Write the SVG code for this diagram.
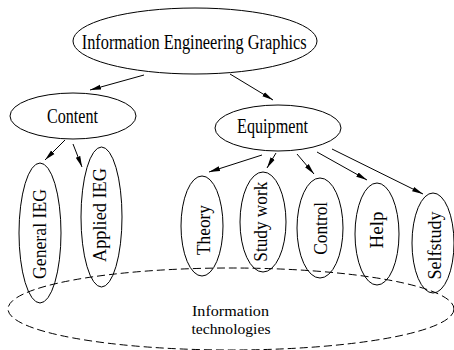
<svg xmlns="http://www.w3.org/2000/svg" width="454" height="350" viewBox="0 0 454 350">
<defs>
<marker id="ah" markerUnits="userSpaceOnUse" markerWidth="12" markerHeight="6" refX="11" refY="3" orient="auto">
<path d="M0,0.6 L11,3 L0,5.4 Z" fill="#000"/>
</marker>
<style>
.n{fill:none;stroke:#000;stroke-width:1}
.t{font-family:"Liberation Serif","Times New Roman",serif;font-size:20px;fill:#000;text-anchor:middle}
.b{font-family:"Liberation Serif","Times New Roman",serif;font-size:15px;fill:#000;text-anchor:middle}
.r{font-family:"Liberation Serif","Times New Roman",serif;font-size:18px;fill:#000;text-anchor:middle}
.e{stroke:#000;stroke-width:1;fill:none;marker-end:url(#ah)}
</style>
</defs>
<rect width="454" height="350" fill="#fff"/>
<g id="info-tech">
<ellipse class="n" cx="231" cy="309" rx="223" ry="41" stroke-dasharray="8,4"/>
<text class="b" x="230.5" y="316" textLength="77" lengthAdjust="spacingAndGlyphs">Information</text>
<text class="b" x="231" y="334" textLength="79" lengthAdjust="spacingAndGlyphs">technologies</text>
</g>
<g id="ieg">
<ellipse class="n" cx="195" cy="41" rx="122" ry="33"/>
<text class="t" x="194.2" y="49" textLength="225" lengthAdjust="spacingAndGlyphs">Information Engineering Graphics</text>
</g>
<g id="content">
<ellipse class="n" cx="73" cy="116" rx="63" ry="23"/>
<text class="t" x="72.5" y="123" textLength="51" lengthAdjust="spacingAndGlyphs">Content</text>
</g>
<g id="equipment">
<ellipse class="n" cx="278" cy="128" rx="63" ry="23"/>
<text class="t" x="272.5" y="132.7" textLength="71" lengthAdjust="spacingAndGlyphs">Equipment</text>
</g>
<g id="general">
<ellipse class="n" cx="40" cy="233" rx="21" ry="70"/>
<text class="r" transform="translate(46,234) rotate(-90)" textLength="90" lengthAdjust="spacingAndGlyphs">General IEG</text>
</g>
<g id="applied">
<ellipse class="n" cx="101.5" cy="217" rx="20.5" ry="70"/>
<text class="r" transform="translate(105.7,215) rotate(-90)" textLength="94" lengthAdjust="spacingAndGlyphs">Applied IEG</text>
</g>
<g id="theory">
<ellipse class="n" cx="202" cy="226" rx="21" ry="50"/>
<text class="r" transform="translate(209.5,230) rotate(-90)" textLength="50" lengthAdjust="spacingAndGlyphs">Theory</text>
</g>
<g id="studywork">
<ellipse class="n" cx="263" cy="222" rx="23" ry="50"/>
<text class="r" transform="translate(267,221.7) rotate(-90)" textLength="80" lengthAdjust="spacingAndGlyphs">Study work</text>
</g>
<g id="control">
<ellipse class="n" cx="320" cy="228" rx="23" ry="50"/>
<text class="r" transform="translate(326.5,228.3) rotate(-90)" textLength="53" lengthAdjust="spacingAndGlyphs">Control</text>
</g>
<g id="help">
<ellipse class="n" cx="377" cy="234" rx="22" ry="51"/>
<text class="r" transform="translate(383,230) rotate(-90)" textLength="37" lengthAdjust="spacingAndGlyphs">Help</text>
</g>
<g id="selfstudy">
<ellipse class="n" cx="433" cy="243" rx="21" ry="50"/>
<text class="r" transform="translate(440.5,245.5) rotate(-90)" textLength="68" lengthAdjust="spacingAndGlyphs">Selfstudy</text>
</g>
<g id="connectors">
<line class="e" x1="144" y1="75" x2="90" y2="90"/>
<line class="e" x1="230" y1="74" x2="273" y2="100"/>
<line class="e" x1="65" y1="140" x2="45" y2="160"/>
<line class="e" x1="73" y1="144" x2="82" y2="167"/>
<line class="e" x1="262" y1="155" x2="209" y2="172"/>
<line class="e" x1="276" y1="153" x2="267" y2="168"/>
<line class="e" x1="297" y1="154" x2="314" y2="174"/>
<line class="e" x1="317" y1="152" x2="367" y2="180"/>
<line class="e" x1="332" y1="149" x2="423" y2="194"/>
</g>
</svg>
